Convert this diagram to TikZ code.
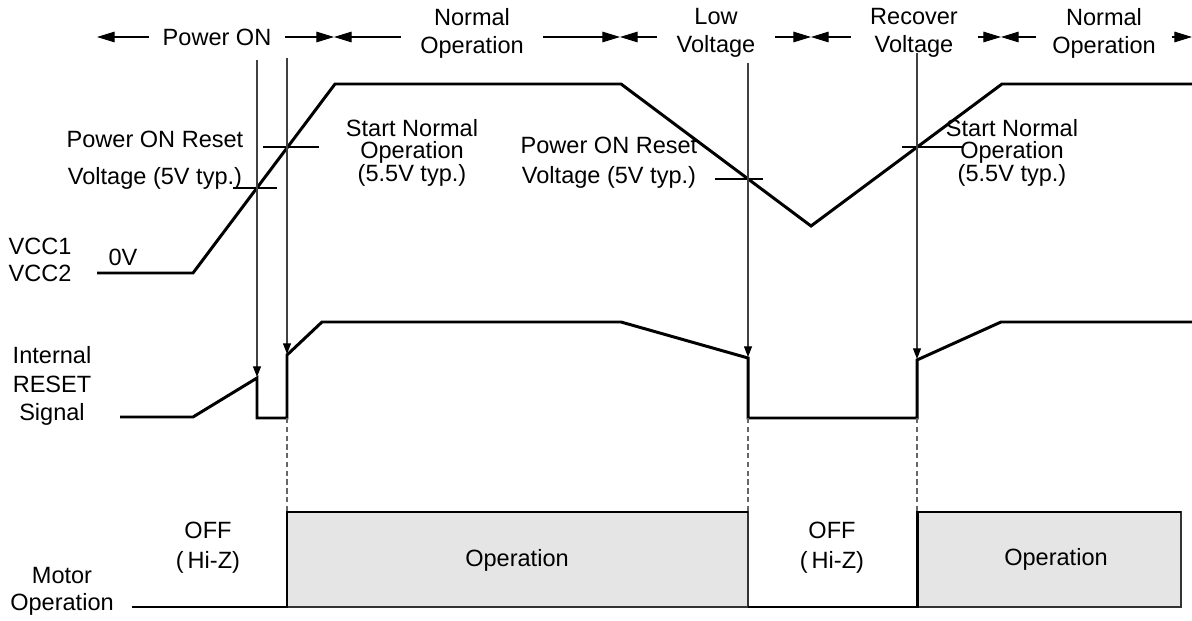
\documentclass[tikz,border=0pt]{standalone}
\usepackage{fontspec}
\setmainfont{Liberation Sans}
\usetikzlibrary{arrows.meta}

\begin{document}
\begin{tikzpicture}[x=0.02cm,y=-0.02cm,
    sig/.style={line width=1.7pt,line join=miter},
    tick/.style={line width=0.6pt},
    probe/.style={line width=0.6pt,black!75,-{Triangle[length=6pt,width=4.5pt,black]}},
    span/.style={line width=0.6pt,-{Triangle[length=10pt,width=6pt]}},
    guide/.style={line width=0.6pt,black!60,dash pattern=on 3pt off 2pt},
    lbl/.style={align=center,inner sep=0pt,font=\fontsize{13.4}{16}\selectfont},
    phase/.style={lbl,inner xsep=11pt}]
\useasboundingbox (0,0) rectangle (1192,621);
% phase boundaries
\coordinate (b0) at (97,37);
\coordinate (b1) at (334,37);
\coordinate (b2) at (620,37);
\coordinate (b3) at (811,37);
\coordinate (b4) at (1001,37);
\coordinate (b5) at (1192,37);
\node[phase,inner xsep=7.5pt] (pwron) at (217,37) {Power ON};
\node[phase] (normA) at (472,33) {Normal\\Operation};
\node[phase] (lowv) at (716,33) {Low\\Voltage};
\node[phase] (recov) at (914,33) {Recover\\Voltage};
\node[phase,inner xsep=9pt] (normB) at (1104,33) {Normal\\Operation};
\draw[span] (pwron.west) -- (b0);
\draw[span] (pwron.east) -- (b1);
\draw[span] (normA.west |- b1) -- (b1);
\draw[span] (normA.east |- b2) -- (b2);
\draw[span] (lowv.west |- b2) -- (b2);
\draw[span] (lowv.east |- b3) -- (b3);
\draw[span] (recov.west |- b3) -- (b3);
\draw[span] (recov.east |- b4) -- (b4);
\draw[span] (normB.west |- b4) -- (b4);
\draw[span] (normB.east |- b5) -- (b5);
% VCC
\draw[sig] (97,273) -- (193,273) -- (335,84) -- (621,84) -- (811,226) -- (1002,84) -- (1192,84);
\draw[tick] (233,188) -- (277,188);
\draw[tick] (263,147) -- (319,147);
\draw[tick] (715,179) -- (763,179);
\draw[tick] (902,147) -- (963,147);
% internal reset
\draw[sig] (120,417) -- (193,417) -- (257,378) -- (257,418) -- (287,418) -- (287,355) -- (322,322) -- (621,322) -- (748,358) -- (748,418) -- (917,418) -- (917,360) -- (1001,322) -- (1192,322);
% motor operation
\filldraw[fill=black!10,draw=black!80,line width=0.6pt] (287,512) rectangle (748,607);
\filldraw[fill=black!10,draw=black!80,line width=0.6pt] (917,512) rectangle (1181,607);
\draw[sig] (132,607) -- (287,607) -- (287,512) -- (748,512);
\draw[sig] (748,607) -- (917,607) -- (917,512) -- (1181,512);
% probes
\coordinate (p1) at (257,60);   \coordinate (r1) at (257,377);
\coordinate (p2) at (287,58);   \coordinate (r2) at (287,354);
\coordinate (p3) at (748,63);   \coordinate (r3) at (748,357);
\coordinate (p4) at (917,53);   \coordinate (r4) at (917,359);
\draw[probe] (p1) -- (r1);
\draw[probe] (p2) -- (r2);
\draw[probe] (p3) -- (r3);
\draw[probe] (p4) -- (r4);
\coordinate (g2) at (287,418); \coordinate (m2) at (287,512);
\coordinate (g3) at (748,418); \coordinate (m3) at (748,512);
\coordinate (g4) at (917,418); \coordinate (m4) at (917,512);
\draw[guide] (g2) -- (m2);
\draw[guide] (g3) -- (m3);
\draw[guide] (g4) -- (m4);
% labels
\node[lbl,font=\fontsize{13.4}{21}\selectfont] (rstA) at (155,160) {Power ON Reset\\Voltage (5V typ.)};
\node[lbl,font=\fontsize{13.4}{12.3}\selectfont] (startA) at (412,153) {Start Normal\\Operation\\(5.5V typ.)};
\node[lbl,font=\fontsize{13.4}{17}\selectfont] (rstB) at (609,163) {Power ON Reset\\Voltage (5V typ.)};
\node[lbl,font=\fontsize{13.4}{12.3}\selectfont] (startB) at (1012,153) {Start Normal\\Operation\\(5.5V typ.)};
\node[lbl,font=\fontsize{13.4}{15}\selectfont] (vcc) at (40,260) {VCC1\\VCC2};
\node[lbl] (zero) at (123,257) {0V};
\node[lbl] (rst) at (52,386) {Internal\\RESET\\Signal};
\node[lbl,font=\fontsize{13.4}{15.5}\selectfont] (motor) at (62,591) {Motor\\Operation};
\node[lbl,font=\fontsize{13.4}{17}\selectfont] (offA) at (208,548) {OFF\\(\,Hi-Z)};
\node[lbl] (opA) at (517,560) {Operation};
\node[lbl,font=\fontsize{13.4}{17}\selectfont] (offB) at (832,548) {OFF\\(\,Hi-Z)};
\node[lbl] (opB) at (1056,559) {Operation};
\end{tikzpicture}
\end{document}
